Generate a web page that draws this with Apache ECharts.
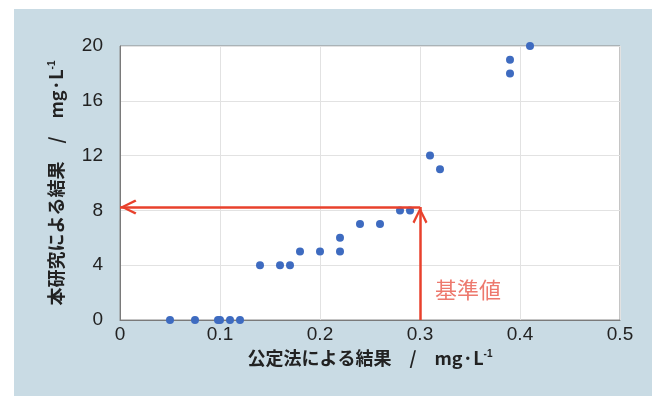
<!DOCTYPE html>
<html><head><meta charset="utf-8">
<script src="https://cdn.jsdelivr.net/npm/echarts@6/dist/echarts.min.js"></script>
<style>html,body{margin:0;padding:0;background:#fff}#c{width:659px;height:396px}</style>
</head><body><div id="c"></div>
<script>
const xValues = [0.05,0.075,0.098,0.1,0.11,0.12,0.14,0.16,0.17,0.18,0.2,0.22,0.22,0.24,0.26,0.28,0.29,0.31,0.32,0.39,0.39,0.41];
const yValues = [0,0,0,0,0,0,4,4,4,5,5,5,6,7,7,8,8,12,11,18,19,20];
const xTicks = [0,0.1,0.2,0.3,0.4,0.5];
const yTicks = [0,4,8,12,16,20];
const criterionX = 0.3;
const criterionY = 8.25;
const criterionLabel = ['基準値'];
const criterionLabelPos = [[0.348, 2.2]];
const xTitle = '公定法による結果　/　mg·L{sup|-1}';
const yTitle = '本研究による結果　/　mg·L{sup|-1}';

const chart = echarts.init(document.getElementById('c'));
const font = "'Liberation Sans','Noto Sans CJK JP',sans-serif";
const cjk = "'Noto Sans CJK JP','Liberation Sans',sans-serif";
// chevron with its tip at the centre of the symbol's bounding box
const arrowPath = 'path://M4.98,-10.9 L5.02,-10.9 L5,-10.88 Z M0,10 L5,0 L10,10 L8.7,10.9 L5,3.3 L1.3,10.9 Z';
const supStyle = {fontSize:10,verticalAlign:'top',color:'#222',fontFamily:font,padding:[0,0,9,0]};
chart.setOption({
  animation:false,
  backgroundColor:'#fff',
  graphic:[{type:'rect',shape:{x:14,y:9,width:638,height:387},style:{fill:'#c9dbe4'},z:-10}],
  grid:{left:120,right:39,top:46,bottom:76,show:true,backgroundColor:'#fff',borderColor:'#8a8a8a',borderWidth:1},
  xAxis:{type:'value',min:0,max:0.5,interval:0.1,
    axisLine:{show:true,lineStyle:{color:'#7a7a7a',width:1}},
    axisTick:{show:false},
    splitLine:{show:true,lineStyle:{color:'#e2e2e2',width:1}},
    axisLabel:{color:'#222',fontSize:19,fontFamily:font,margin:5,formatter:v=>xTicks.includes(+v.toFixed(1))?String(+v.toFixed(1)):''},
    name:xTitle,nameLocation:'middle',nameGap:25,
    nameTextStyle:{color:'#222',fontSize:18,fontFamily:cjk,fontWeight:'bold',rich:{sup:supStyle}}},
  yAxis:{type:'value',min:0,max:20,interval:4,
    axisLine:{show:true,lineStyle:{color:'#7a7a7a',width:1}},
    axisTick:{show:false},
    splitLine:{show:true,lineStyle:{color:'#e2e2e2',width:1}},
    axisLabel:{color:'#222',fontSize:19,fontFamily:font,margin:17,formatter:v=>yTicks.includes(v)?String(v):''},
    name:yTitle,nameLocation:'middle',nameGap:54,nameRotate:90,
    nameTextStyle:{color:'#222',fontSize:18,fontFamily:cjk,fontWeight:'bold',rich:{sup:supStyle}}},
  series:[
    {type:'scatter',symbol:'circle',symbolSize:8,itemStyle:{color:'#3e6bc0',opacity:1},
     data:xValues.map((x,i)=>[x,yValues[i]]),z:3},
    {type:'scatter',symbolSize:0,silent:true,
     data:criterionLabelPos.map((p,i)=>({value:p,label:{show:true,formatter:criterionLabel[i],position:'inside',color:'#e8584a',fontSize:22,fontFamily:cjk}})),
     markLine:{silent:true,animation:false,symbol:['none',arrowPath],symbolSize:[15,33],
       lineStyle:{color:'#e8412c',width:2.5,type:'solid',opacity:1},label:{show:false},
       data:[
         [{coord:[criterionX,0]},{coord:[criterionX,criterionY]}],
         [{coord:[criterionX,criterionY]},{coord:[0,criterionY]}]
       ]}}
  ]
});
</script></body></html>
